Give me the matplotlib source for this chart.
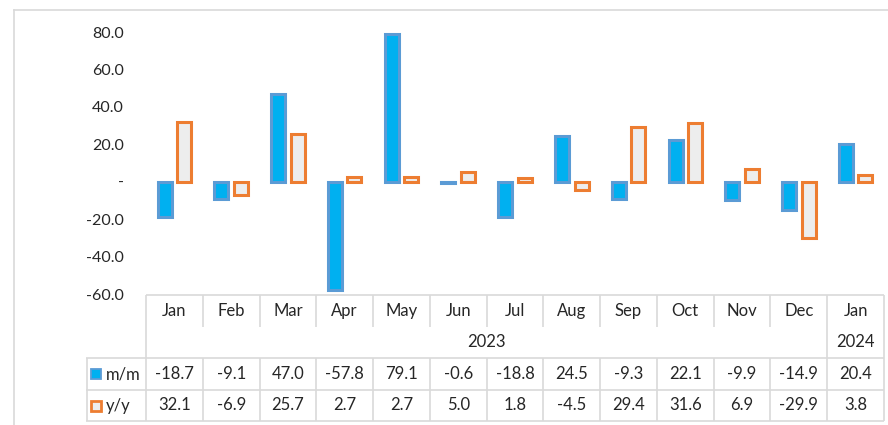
import matplotlib.pyplot as plt
from matplotlib.lines import Line2D
import numpy as np

# Monthly change (m/m) and yearly change (y/y), Jan 2023 - Jan 2024
months = ["Jan", "Feb", "Mar", "Apr", "May", "Jun", "Jul", "Aug",
          "Sep", "Oct", "Nov", "Dec", "Jan"]
years = ["2023", "2024"]
series = ["m/m", "y/y"]
mm = [-18.7, -9.1, 47.0, -57.8, 79.1, -0.6, -18.8, 24.5, -9.3, 22.1, -9.9, -14.9, 20.4]
yy = [32.1, -6.9, 25.7, 2.7, 2.7, 5.0, 1.8, -4.5, 29.4, 31.6, 6.9, -29.9, 3.8]

plt.rcParams['font.family'] = ['Lato', 'DejaVu Sans']

W, H = 888, 425
TXT = '#262626'
GRID = '#D9D9D9'
fig = plt.figure(figsize=(W / 100, H / 100), dpi=100)


def box(x0, y0, x1, y1):
    # pixel box (y measured from the top) -> figure fraction rect
    return [x0 / W, 1 - y1 / H, (x1 - x0) / W, (y1 - y0) / H]


# outer chart frame
fig.add_artist(Line2D([14 / W, 14 / W], [1 - 10 / H, 0], color=GRID, lw=1.2))
fig.add_artist(Line2D([14 / W, 1], [1 - 10 / H, 1 - 10 / H], color=GRID, lw=1.2))

# bars
ax = fig.add_axes(box(146, 32, 884, 294))
x = np.arange(len(months)) + 0.5
ax.bar(x - 0.172, mm, 0.246, color='#00B0F0', edgecolor='#5B9BD5', linewidth=2.2)
ax.bar(x + 0.172, yy, 0.246, color='#EDEDED', edgecolor='#ED7D31', linewidth=2.2)
ax.set_xlim(0, len(months))
ax.set_ylim(-60, 80)
yt = np.arange(-60, 81, 20)
ax.set_yticks(yt)
ax.set_yticklabels([f"{v:.1f}" if v != 0 else "-" for v in yt])
ax.tick_params(axis='y', length=0, pad=16, labelsize=11.5, labelcolor=TXT)
ax.set_xticks([])
for s in ax.spines.values():
    s.set_visible(False)

# data table under the chart
n = len(months)
cw = (884 - 146) / n
xl = -(146 - 86) / cw
tab = fig.add_axes(box(86, 294, 884, 425))
tab.set_xlim(xl, n)
tab.set_ylim(425, 294)
tab.axis('off')

kw = dict(color=GRID, lw=1.2, clip_on=False)
tab.hlines(294.5, 0, n, **kw)
tab.hlines([358, 390, 421], xl, n, **kw)
tab.vlines([0, n - 1, n], 294.5, 421, **kw)
tab.vlines(range(1, n - 1), 294.5, 327, **kw)
tab.vlines(range(1, n - 1), 358, 421, **kw)
tab.vlines(xl + 0.01, 358, 421, **kw)

fs = 12
for i, m in enumerate(months):
    tab.text(i + 0.5, 311, m, ha='center', va='center', fontsize=fs, color=TXT)
    tab.text(i + 0.5, 374, f"{mm[i]:.1f}", ha='center', va='center', fontsize=fs, color=TXT)
    tab.text(i + 0.5, 405.5, f"{yy[i]:.1f}", ha='center', va='center', fontsize=fs, color=TXT)
tab.text((n - 1) / 2, 342, years[0], ha='center', va='center', fontsize=fs, color=TXT)
tab.text(n - 0.5, 342, years[1], ha='center', va='center', fontsize=fs, color=TXT)

# legend keys
mx = (96 - 146) / cw
tab.plot([mx], [374], marker='s', ms=7, mfc='#00B0F0', mec='#5B9BD5', mew=1.3, clip_on=False)
tab.plot([mx], [405.5], marker='s', ms=7, mfc='#EDEDED', mec='#ED7D31', mew=2, clip_on=False)
tab.text((106 - 146) / cw, 374, series[0], ha='left', va='center', fontsize=fs, color=TXT)
tab.text((106 - 146) / cw, 405.5, series[1], ha='left', va='center', fontsize=fs, color=TXT)

fig.savefig("out.png", dpi=100)
